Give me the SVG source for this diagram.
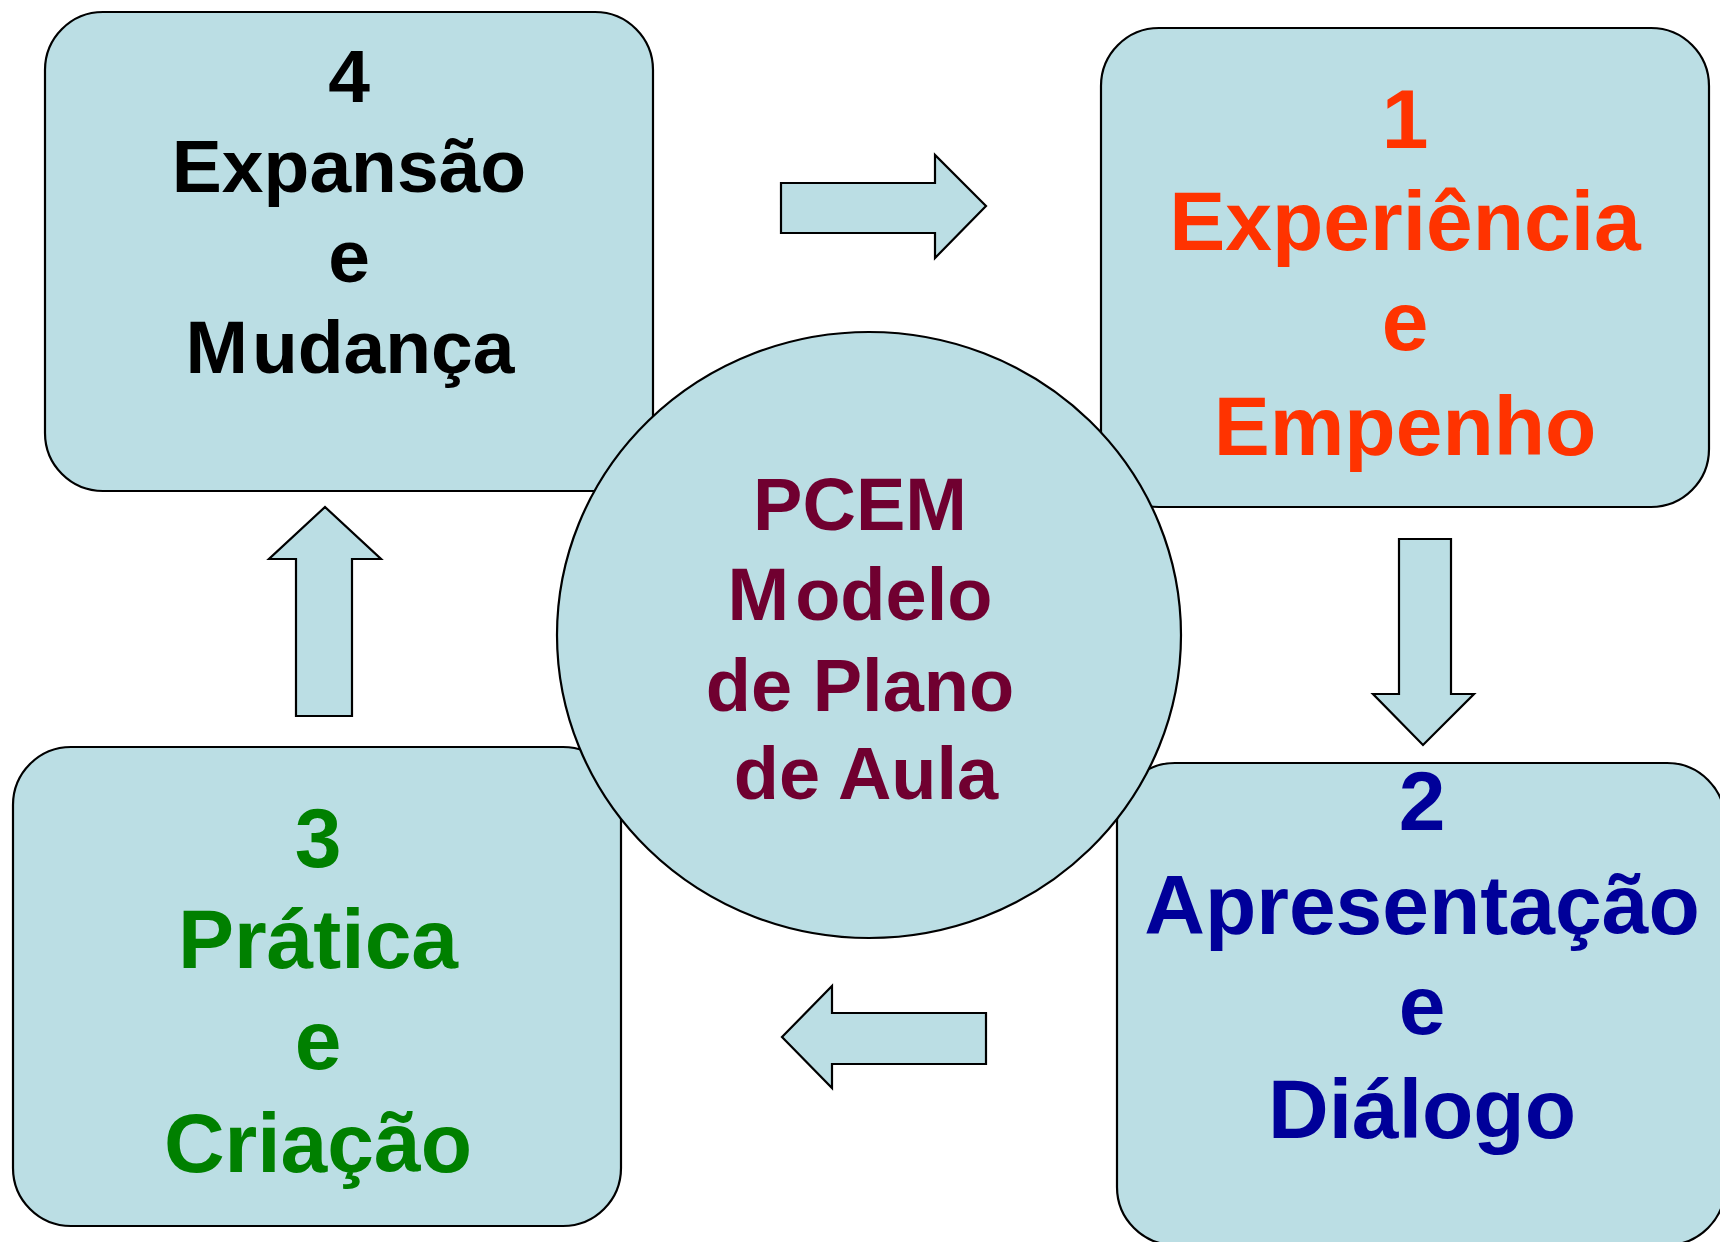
<svg xmlns="http://www.w3.org/2000/svg" width="1720" height="1242" viewBox="0 0 1720 1242">
<style>
.shape{fill:#BBDEE4;stroke:#000;stroke-width:2.2}
.t{font-family:"Liberation Sans",Arial,sans-serif;font-weight:bold;text-anchor:middle}
.t4{font-size:75px;fill:#000}
.t1{font-size:84px;fill:#FF3300}
.t2{font-size:84px;fill:#000099}
.t3{font-size:84px;fill:#008000}
.tc{font-size:74px;fill:#700030}
</style>
<rect width="1720" height="1242" fill="#fff"/>
<g id="connectors">
<polygon class="shape" points="781,183 935,183 935,155 986,206 935,258 935,233 781,233"/>
<polygon class="shape" points="1399,539 1451,539 1451,694 1474,694 1423,745 1373,694 1399,694"/>
<polygon class="shape" points="986,1013 832,1013 832,986 782,1037 832,1088 832,1064 986,1064"/>
<polygon class="shape" points="296,716 296,559 269,559 325,507 381,559 352,559 352,716"/>
</g>
<g id="node4">
<rect class="shape" x="45" y="12" width="608" height="479" rx="58" ry="58"/>
<text class="t t4" x="349" y="102">4</text>
<text class="t t4" x="349" y="192">Expansão</text>
<text class="t t4" x="349" y="282">e</text>
<text class="t t4" x="350" y="373" font-size="73">M<tspan dx="4">udança</tspan></text>
</g>
<g id="node1">
<rect class="shape" x="1101" y="28" width="608" height="479" rx="58" ry="58"/>
<text class="t t1" x="1405" y="148">1</text>
<text class="t t1" x="1405" y="250">Experiência</text>
<text class="t t1" x="1405" y="350">e</text>
<text class="t t1" x="1405" y="455">Empenho</text>
</g>
<g id="node3">
<rect class="shape" x="13" y="747" width="608" height="479" rx="58" ry="58"/>
<text class="t t3" x="318" y="867">3</text>
<text class="t t3" x="318" y="968">Prática</text>
<text class="t t3" x="318" y="1069">e</text>
<text class="t t3" x="318" y="1172">Criação</text>
</g>
<g id="node2">
<rect class="shape" x="1117" y="763" width="608" height="482" rx="58" ry="58"/>
<text class="t t2" x="1422" y="830">2</text>
<text class="t t2" x="1422" y="934">Apresentação</text>
<text class="t t2" x="1422" y="1034">e</text>
<text class="t t2" x="1422" y="1138">Diálogo</text>
</g>
<g id="center">
<ellipse class="shape" cx="869" cy="635" rx="312" ry="303"/>
<text class="t tc" x="860" y="530">PCEM</text>
<text class="t tc" x="860" y="620">M<tspan dx="6">odelo</tspan></text>
<text class="t tc" x="860" y="711">de Plano</text>
<text class="t tc" x="866" y="799">de Aula</text>
</g>
</svg>
